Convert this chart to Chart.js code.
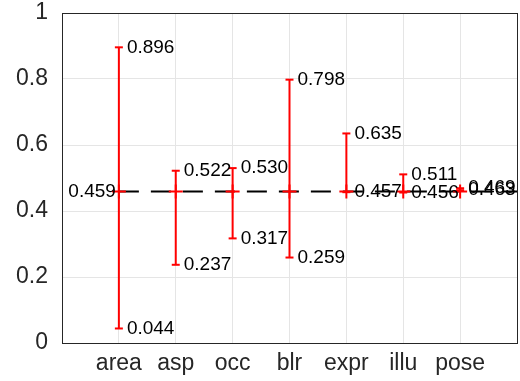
<!DOCTYPE html>
<html>
<head>
<meta charset="utf-8">
<script src="https://cdn.jsdelivr.net/npm/chart.js@4/dist/chart.umd.min.js"></script>
<style>
  html, body { margin: 0; padding: 0; background: #fff; }
  #wrap { width: 520px; height: 381px; }
</style>
</head>
<body>
<div id="wrap"><canvas id="c" width="520" height="381"></canvas></div>
<script>
// Per-attribute score ranges around the overall baseline
const categories = ['area', 'asp', 'occ', 'blr', 'expr', 'illu', 'pose'];
const maxValues = [0.896, 0.522, 0.530, 0.798, 0.635, 0.511, 0.469];
const minValues = [0.044, 0.237, 0.317, 0.259, 0.457, 0.456, 0.463];
const baseline = 0.459;
const yTicks = [0, 0.2, 0.4, 0.6, 0.8, 1];

const RED = '#ff0000';
const FONT = '"Liberation Sans", Arial, Helvetica, sans-serif';

// One vertical range line (with caps) per attribute
const rangeSets = categories.map((name, i) => ({
  label: name,
  data: [{ x: i + 1, y: minValues[i] }, { x: i + 1, y: maxValues[i] }],
  showLine: true,
  borderColor: RED,
  backgroundColor: RED,
  borderWidth: 2,
  pointStyle: 'line',
  pointRadius: 4,
  pointBorderWidth: 2,
  order: 2
}));

const datasets = [
  {
    label: 'baseline',
    data: [{ x: 1, y: baseline }, { x: categories.length + 1, y: baseline }],
    showLine: true,
    borderColor: '#000',
    borderWidth: 2,
    borderDash: [20, 12],
    pointRadius: 0,
    order: 3
  },
  ...rangeSets,
  {
    label: 'center',
    data: categories.map((_, i) => ({ x: i + 1, y: baseline })),
    showLine: false,
    pointStyle: 'cross',
    pointRadius: 7,
    pointBorderWidth: 2,
    borderColor: RED,
    backgroundColor: RED,
    order: 1
  }
];

// Axes box on all four sides
const frame = {
  id: 'frame',
  afterDatasetsDraw(chart) {
    const { ctx, chartArea: a } = chart;
    ctx.save();
    ctx.strokeStyle = '#262626';
    ctx.lineWidth = 1;
    ctx.strokeRect(Math.round(a.left) + 0.5, Math.round(a.top) + 0.5,
      Math.round(a.right - a.left), Math.round(a.bottom - a.top));
    ctx.restore();
  }
};

// Numeric labels beside each range end, plus the baseline value
const valueLabels = {
  id: 'valueLabels',
  afterDraw(chart) {
    const { ctx } = chart;
    ctx.save();
    ctx.font = '19px ' + FONT;
    ctx.fillStyle = '#000';
    ctx.textBaseline = 'middle';
    ctx.textAlign = 'left';
    categories.forEach((_, i) => {
      const meta = chart.getDatasetMeta(1 + i);
      const lo = meta.data[0], hi = meta.data[1];
      ctx.fillText(maxValues[i].toFixed(3), hi.x + 8, hi.y);
      ctx.fillText(minValues[i].toFixed(3), lo.x + 8, lo.y);
    });
    const centerMeta = chart.getDatasetMeta(datasets.length - 1);
    const first = centerMeta.data[0];
    ctx.textAlign = 'right';
    ctx.fillText(baseline.toFixed(3), first.x - 3, first.y);
    ctx.restore();
  }
};

new Chart(document.getElementById('c'), {
  type: 'scatter',
  data: { datasets },
  options: {
    responsive: false,
    animation: false,
    layout: { autoPadding: false, padding: { top: 13, right: 3, left: 0, bottom: 0 } },
    plugins: { legend: { display: false }, tooltip: { enabled: false } },
    scales: {
      x: {
        type: 'linear',
        min: 0,
        max: categories.length + 1,
        afterBuildTicks(scale) {
          scale.ticks = categories.map((_, i) => ({ value: i + 1 }));
        },
        afterFit(scale) {
          scale.height = 38;
          scale.paddingLeft = 0;
          scale.paddingRight = 0;
        },
        ticks: {
          callback: (v) => categories[v - 1] ?? '',
          color: '#262626',
          font: { family: FONT, size: 23 },
          padding: 7,
          maxRotation: 0,
          autoSkip: false
        },
        grid: { color: '#e5e5e5', lineWidth: 1, drawTicks: false },
        border: { display: false }
      },
      y: {
        type: 'linear',
        min: 0,
        max: 1,
        afterBuildTicks(scale) {
          scale.ticks = yTicks.map(v => ({ value: v }));
        },
        afterFit(scale) {
          scale.width = 62;
          scale.paddingTop = 0;
          scale.paddingBottom = 0;
        },
        ticks: {
          callback: (v) => String(Math.round(v * 10) / 10),
          color: '#262626',
          font: { family: FONT, size: 23 },
          padding: 14
        },
        grid: { color: '#e5e5e5', lineWidth: 1, drawTicks: false },
        border: { display: false }
      }
    }
  },
  plugins: [frame, valueLabels]
});
</script>
</body>
</html>
